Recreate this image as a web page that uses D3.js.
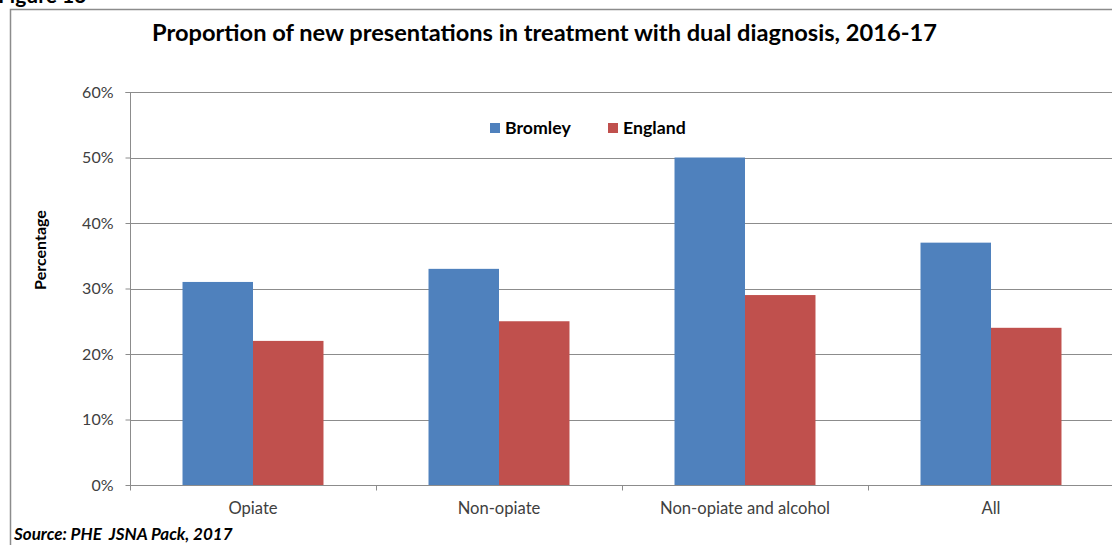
<!DOCTYPE html>
<html><head><meta charset="utf-8">
<script src="https://cdn.jsdelivr.net/npm/d3@7"></script>
<style>body{margin:0;background:#fff;}svg{display:block;font-family:Lato,"Open Sans",sans-serif;}</style>
</head><body>
<svg id="c" width="1112" height="545"></svg>
<script>
const categories = ["Opiate", "Non-opiate", "Non-opiate and alcohol", "All"];
const seriesNames = ["Bromley", "England"];
const bromley = [31, 33, 50, 37];
const england = [22, 25, 29, 24];
const yTicks = [0, 10, 20, 30, 40, 50, 60];
const colors = ["#4F81BD", "#C0504D"];

const svg = d3.select("#c");
const plot = {left: 130, right: 1114, top: 92, bottom: 485};

// scale a text's font size so it spans a target width
function fit(sel, target) {
  const n = sel.node();
  const fs = parseFloat(sel.attr("font-size"));
  const w = n.getComputedTextLength();
  if (w > 0) sel.attr("font-size", (fs * target / w).toFixed(2));
  return sel;
}

// outer frame
svg.append("path").attr("d", "M10.5,545 V9.5 H1112").attr("fill", "none").attr("stroke", "#8c8c8c").attr("stroke-width", 1.5);
// Figure label (cut off at top, as in the source)
svg.append("text").attr("x", -2).attr("y", 3).attr("font-weight", "bold").attr("font-size", 21).attr("fill", "#000").text("Figure 13");

const x0 = d3.scaleBand().domain(categories).range([plot.left, plot.right]).paddingInner(0).paddingOuter(0);
const x1 = d3.scaleBand().domain(seriesNames).range([0, x0.bandwidth()]).paddingInner(0).paddingOuter(0.745);
const y = d3.scaleLinear().domain([0, 60]).range([plot.bottom, plot.top]);

// gridlines
svg.append("g").selectAll("line").data(yTicks.filter(d => d > 0)).join("line")
  .attr("x1", plot.left).attr("x2", 1112)
  .attr("y1", d => Math.round(y(d)) + 0.5).attr("y2", d => Math.round(y(d)) + 0.5)
  .attr("stroke", "#8c8c8c").attr("stroke-width", 1);

// bars
const data = categories.map((c, i) => ({c, vals: [bromley[i], england[i]]}));
const g = svg.append("g");
data.forEach(d => {
  d.vals.forEach((v, j) => {
    g.append("rect")
      .attr("x", x0(d.c) + x1(seriesNames[j]))
      .attr("width", x1.bandwidth())
      .attr("y", y(v)).attr("height", y(0) - y(v))
      .attr("fill", colors[j]);
  });
});

// y axis
const yAxis = d3.axisLeft(y).tickValues(yTicks).tickFormat(d => d + "%").tickSize(5).tickPadding(12);
const ya = svg.append("g").attr("transform", `translate(${plot.left + 0.5},0)`).call(yAxis);
ya.select(".domain").attr("stroke", "#8c8c8c").attr("d", `M-5,${plot.top}.5H0V${plot.bottom}.5`);
ya.selectAll(".tick line").attr("stroke", "#8c8c8c");
ya.selectAll(".tick text").attr("font-size", 16).attr("fill", "#404040").attr("font-family", "Lato, sans-serif");

// x axis
const xa = svg.append("g").attr("transform", `translate(0,${plot.bottom + 0.5})`);
xa.append("line").attr("x1", plot.left).attr("x2", 1112).attr("stroke", "#8c8c8c");
const tickXs = categories.map(c => x0(c)).concat([x0(categories[categories.length-1]) + x0.bandwidth()]);
xa.selectAll("line.t").data(tickXs).join("line").attr("class", "t")
  .attr("x1", d => Math.round(d) + 0.5).attr("x2", d => Math.round(d) + 0.5).attr("y1", 0).attr("y2", 5).attr("stroke", "#8c8c8c");
xa.selectAll("text").data(categories).join("text")
  .attr("x", d => x0(d) + x0.bandwidth() / 2).attr("y", 28.5)
  .attr("text-anchor", "middle").attr("font-size", 16.6).attr("fill", "#404040").text(d => d);

// y title
svg.append("text").attr("transform", "translate(46,250) rotate(-90)").attr("text-anchor", "middle")
  .attr("font-weight", "bold").attr("font-size", 16).attr("fill", "#000").text("Percentage");

// chart title
fit(svg.append("text").attr("x", 544.5).attr("y", 41).attr("text-anchor", "middle")
  .attr("font-weight", "bold").attr("font-size", 21).attr("fill", "#000")
  .text("Proportion of new presentations in treatment with dual diagnosis, 2016-17"), 785);

// legend
const leg = svg.append("g");
const legItems = [{n: seriesNames[0], x: 490}, {n: seriesNames[1], x: 608}];
legItems.forEach((it, i) => {
  leg.append("rect").attr("x", it.x).attr("y", 123).attr("width", 10).attr("height", 10).attr("fill", colors[i]);
  leg.append("text").attr("x", it.x + 15).attr("y", 134).attr("font-weight", "bold").attr("font-size", 17.7).attr("fill", "#000").text(it.n);
});

// source
svg.append("text").attr("x", 14).attr("y", 540).attr("font-weight", "bold").attr("font-style", "italic")
  .attr("font-size", 17).attr("fill", "#000").style("white-space", "pre").text("Source: PHE  JSNA Pack, 2017");
</script>
</body></html>
